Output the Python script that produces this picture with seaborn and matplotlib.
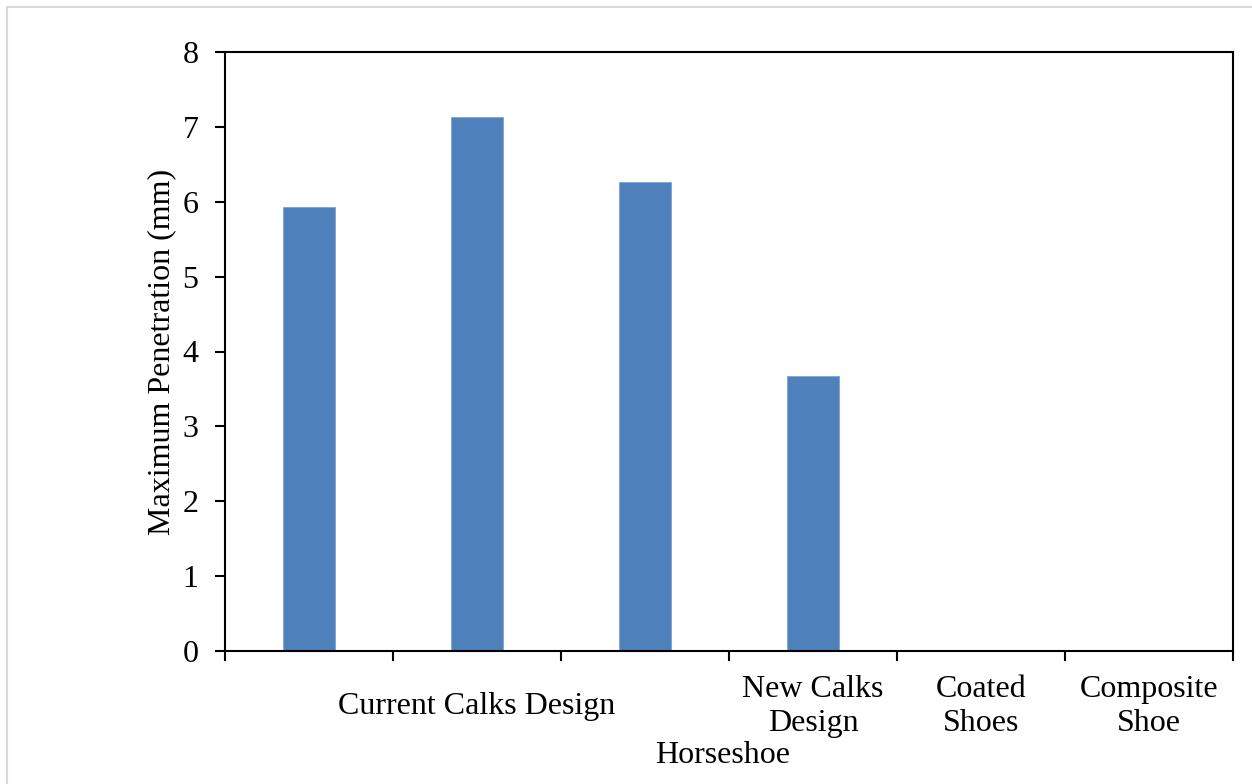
import matplotlib
matplotlib.use("Agg")
import matplotlib.pyplot as plt
import seaborn as sns
import pandas as pd
from matplotlib.lines import Line2D

# data
categories = ["A", "B", "C", "D", "E", "F"]
tick_labels = ["", "Current Calks Design", "", "New Calks\nDesign", "Coated\nShoes", "Composite\nShoe"]
penetration = [5.93, 7.13, 6.26, 3.67, 0.0, 0.0]

df = pd.DataFrame({"cat": categories, "val": penetration})

sns.set_theme(style="white")
plt.rcParams["font.family"] = ["Liberation Serif", "DejaVu Serif"]
plt.rcParams["text.color"] = "black"

fig = plt.figure(figsize=(12.52, 7.84), dpi=100)
ax = fig.add_axes([225 / 1252, 133 / 784, 1008 / 1252, 599 / 784])

sns.barplot(data=df, x="cat", y="val", color="#4f81bd", width=0.31,
            saturation=1, ax=ax, edgecolor="#7fa3d3", linewidth=0.6)

ax.set_xlim(-0.5, len(categories) - 0.5)
ax.set_ylim(0, 8)
ax.set_yticks(range(0, 9))

# major ticks at category boundaries, labels on minor ticks at centers
ax.set_xticks([i - 0.5 for i in range(len(categories) + 1)])
ax.set_xticklabels([])
ax.set_xticks(range(len(categories)), minor=True)
ax.set_xticklabels(tick_labels, minor=True, va="center", linespacing=1.25)

fs = 23
ax.tick_params(axis="x", which="major", direction="out", length=7, width=1.5,
               color="black", bottom=True)
ax.tick_params(axis="x", which="minor", length=0, pad=40, labelsize=fs,
               labelcolor="black")
ax.tick_params(axis="y", direction="out", length=7, width=1.5, color="black",
               left=True, pad=12, labelsize=fs, labelcolor="black")

for s in ax.spines.values():
    s.set_visible(True)
    s.set_color("black")
    s.set_linewidth(1.5)

ax.set_xlabel("Horseshoe", fontsize=fs, color="black", va="center")
ax.xaxis.set_label_coords(0.494, -0.174)
ax.set_ylabel("Maximum Penetration (mm)", fontsize=fs, color="black", va="center")
ax.yaxis.set_label_coords(-0.063, 0.5)

# light grey chart frame
fig.add_artist(Line2D([6.5 / 1252, 6.5 / 1252], [0, 1 - 6.5 / 784],
                      transform=fig.transFigure, color="#d9d9d9", lw=1.5))
fig.add_artist(Line2D([6.5 / 1252, 1], [1 - 6.5 / 784, 1 - 6.5 / 784],
                      transform=fig.transFigure, color="#d9d9d9", lw=1.5))

fig.savefig("out.png", dpi=100)
